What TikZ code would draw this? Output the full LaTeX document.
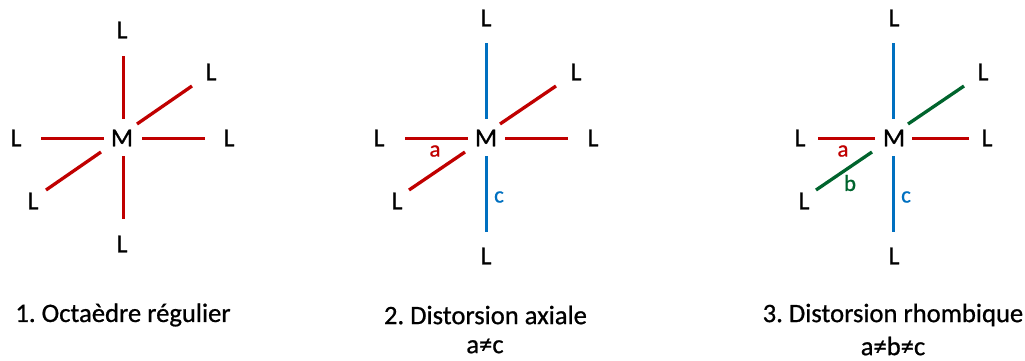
\documentclass[tikz,border=0pt]{standalone}
\usepackage{fontspec}
\setmainfont{Carlito}
\newfontfamily\heavy{Carlito}[RawFeature={embolden=0.8}]
\definecolor{bondred}{HTML}{C00000}
\definecolor{bondblue}{HTML}{0070C0}
\definecolor{bondgreen}{HTML}{00642D}
\tikzset{
  atom/.style={inner sep=0pt,font=\heavy\fontsize{26}{26}\selectfont},
  caption/.style={inner sep=0pt,font=\heavy\fontsize{26.6}{26.6}\selectfont},
  tag/.style={inner sep=0pt,font=\heavy\fontsize{23}{23}\selectfont},
  straight/.style={line width=3pt},
  slant/.style={line width=3.3pt},
}
\begin{document}
\begin{tikzpicture}[x=1pt,y=-1pt]
\useasboundingbox (0,0) rectangle (1025,360);
% Panel 1
\node[atom] (M1) at (122,138) {M};
\node[atom] (T1) at (122,30) {L};
\node[atom] (B1) at (122,244) {L};
\node[atom] (W1) at (16,138) {L};
\node[atom] (E1) at (229,138) {L};
\node[atom] (NE1) at (211,72) {L};
\node[atom] (SW1) at (33,201) {L};
\coordinate (t1a) at (123,56); \coordinate (t1b) at (123,119);
\coordinate (b1a) at (123,156); \coordinate (b1b) at (123,219);
\coordinate (w1a) at (41,138); \coordinate (w1b) at (104,138);
\coordinate (e1a) at (142,138); \coordinate (e1b) at (205,138);
\coordinate (n1a) at (137,124); \coordinate (n1b) at (192,86);
\coordinate (s1a) at (46,190); \coordinate (s1b) at (101,152);
\draw[straight,bondred] (t1a) -- (t1b);
\draw[straight,bondred] (b1a) -- (b1b);
\draw[straight,bondred] (w1a) -- (w1b);
\draw[straight,bondred] (e1a) -- (e1b);
\draw[slant,bondred] (n1a) -- (n1b);
\draw[slant,bondred] (s1a) -- (s1b);
\node[caption] (C1) at (123,315) {1.\hspace{-2pt} Octaèdre régulier};
% Panel 2
\node[atom] (M2) at (486,138) {M};
\node[atom] (T2) at (486,18) {L};
\node[atom] (B2) at (486,256) {L};
\node[atom] (W2) at (379,138) {L};
\node[atom] (E2) at (593,138) {L};
\node[atom] (NE2) at (576,72) {L};
\node[atom] (SW2) at (397,201) {L};
\coordinate (t2a) at (486,43); \coordinate (t2b) at (486,119);
\coordinate (b2a) at (486,156); \coordinate (b2b) at (486,232);
\coordinate (w2a) at (405,138); \coordinate (w2b) at (468,138);
\coordinate (e2a) at (505,138); \coordinate (e2b) at (568,138);
\coordinate (n2a) at (500,124); \coordinate (n2b) at (556,86);
\coordinate (s2a) at (409,190); \coordinate (s2b) at (465,152);
\draw[straight,bondblue] (t2a) -- (t2b);
\draw[straight,bondblue] (b2a) -- (b2b);
\draw[straight,bondred] (w2a) -- (w2b);
\draw[straight,bondred] (e2a) -- (e2b);
\draw[slant,bondred] (n2a) -- (n2b);
\draw[slant,bondred] (s2a) -- (s2b);
\node[tag,text=bondred] (a2) at (435,151) {a};
\node[tag,text=bondblue] (c2) at (499,197) {c};
\node[caption] (C2) at (485.5,315) {2.\hspace{-2pt} Distorsion axiale};
\node[caption] (D2) at (485,346) {a≠c};
% Panel 3
\node[atom] (M3) at (894,138) {M};
\node[atom] (T3) at (894,18) {L};
\node[atom] (B3) at (894,256) {L};
\node[atom] (W3) at (800,138) {L};
\node[atom] (E3) at (987,138) {L};
\node[atom] (NE3) at (983,72) {L};
\node[atom] (SW3) at (804,201) {L};
\coordinate (t3a) at (893.9,43); \coordinate (t3b) at (893.9,119);
\coordinate (b3a) at (893.9,156); \coordinate (b3b) at (893.9,232);
\coordinate (w3a) at (818,138); \coordinate (w3b) at (875,138);
\coordinate (e3a) at (912,138); \coordinate (e3b) at (969,138);
\coordinate (n3a) at (908,124); \coordinate (n3b) at (964,86);
\coordinate (s3a) at (816,190); \coordinate (s3b) at (872,152);
\draw[straight,bondblue] (t3a) -- (t3b);
\draw[straight,bondblue] (b3a) -- (b3b);
\draw[straight,bondred] (w3a) -- (w3b);
\draw[straight,bondred] (e3a) -- (e3b);
\draw[slant,bondgreen] (n3a) -- (n3b);
\draw[slant,bondgreen] (s3a) -- (s3b);
\node[tag,text=bondred] (a3) at (843,151) {a};
\node[tag,text=bondgreen] (lb3) at (850,183) {b};
\node[tag,text=bondblue] (c3) at (906,197) {c};
\node[caption] (C3) at (893,315) {3.\hspace{-2pt} Distorsion rhombique};
\node[caption] (D3) at (893,346) {a≠b≠c};
\end{tikzpicture}
\end{document}
